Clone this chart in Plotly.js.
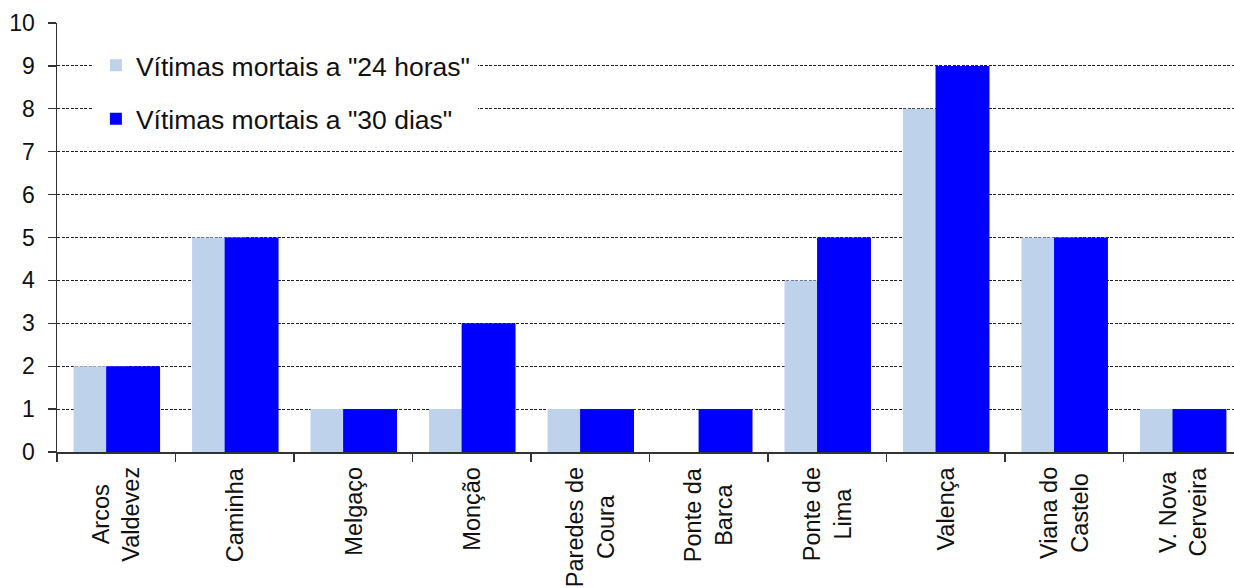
<!DOCTYPE html>
<html>
<head>
<meta charset="utf-8">
<script src="https://cdn.plot.ly/plotly-3.0.1.min.js"></script>
<style>html,body{margin:0;padding:0;background:#fff;}#chart{width:1234px;height:588px;}</style>
</head>
<body>
<div id="chart"></div>
<script>
var categories = ["Arcos<br>Valdevez", "Caminha", "Melgaço", "Monção", "Paredes de<br>Coura", "Ponte da<br>Barca", "Ponte de<br>Lima", "Valença", "Viana do<br>Castelo", "V. Nova<br>Cerveira"];
var vitimas24h = [2, 5, 1, 1, 1, 0, 4, 8, 5, 1];
var vitimas30d = [2, 5, 1, 3, 1, 1, 5, 9, 5, 1];
var seriesNames = ['Vítimas mortais a "24 horas"', 'Vítimas mortais a "30 dias"'];
var yTicks = [0, 1, 2, 3, 4, 5, 6, 7, 8, 9, 10];

var font = "'Liberation Sans', Arial, sans-serif";
var traces = [
  {type: 'bar', x: categories, y: vitimas24h, name: seriesNames[0], legendgroup: 'a',
   marker: {color: '#BFD2EC', line: {width: 0}}, width: 0.455, offset: -0.36, hoverinfo: 'x+y'},
  {type: 'bar', x: categories, y: vitimas30d, name: seriesNames[1], legendgroup: 'b',
   marker: {color: '#0000FF', line: {width: 0}}, width: 0.455, offset: -0.085, hoverinfo: 'x+y'}
];
var labelAnnotations = categories.map(function (c) {
  return {x: c, xref: 'x', y: 0, yref: 'paper', yanchor: 'top', xanchor: 'center', yshift: -13,
          text: c, textangle: -90, align: 'center', showarrow: false,
          font: {family: font, size: 23.5, color: '#111'}};
});
var layout = {
  width: 1234, height: 588,
  margin: {l: 57, r: 0, t: 23, b: 136, pad: 0},
  paper_bgcolor: '#fff', plot_bgcolor: '#fff',
  font: {family: font, color: '#111'},
  barmode: 'overlay',
  showlegend: true,
  legend: {x: 0.0305, y: 0.9637, xanchor: 'left', yanchor: 'top', bgcolor: '#fff',
           bordercolor: '#fff', borderwidth: 3,
           font: {family: font, size: 26.5, color: '#111'}, traceorder: 'grouped', tracegroupgap: 16},
  annotations: labelAnnotations,
  xaxis: {type: 'category', range: [-0.5, 9.434], tickson: 'boundaries', ticks: 'outside', ticklen: 8,
          tickcolor: '#333', tickwidth: 1.3, showline: true, linecolor: '#333', linewidth: 1.5,
          showgrid: false, showticklabels: false},
  yaxis: {range: [0, 10], tickvals: yTicks, ticks: 'outside', ticklen: 8, tickcolor: '#333', tickwidth: 1.3,
          showline: true, linecolor: '#333', linewidth: 1.5, zeroline: false,
          showgrid: true, gridcolor: '#222', gridwidth: 1, griddash: '3px,1.5px',
          ticklabelstandoff: 8, tickfont: {family: font, size: 23, color: '#111'}}
};
Plotly.newPlot('chart', traces, layout, {displayModeBar: false, staticPlot: true});
</script>
</body>
</html>
